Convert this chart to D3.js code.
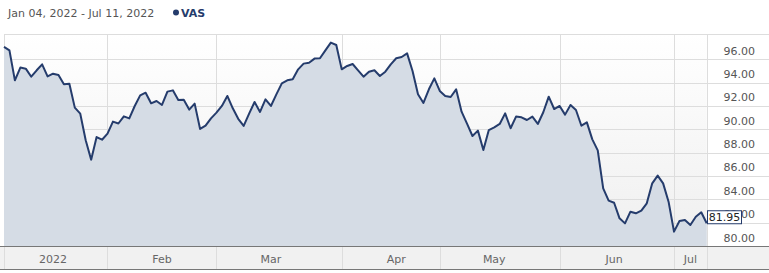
<!DOCTYPE html>
<html>
<head>
<meta charset="utf-8">
<script src="https://cdn.jsdelivr.net/npm/d3@7"></script>
<style>
  html, body { margin: 0; padding: 0; background: #fff; }
  svg { display: block; font-family: "DejaVu Sans", Verdana, sans-serif; }
</style>
</head>
<body>
<svg id="chart" width="769" height="273"></svg>
<script>
// ---- data ----
const seriesName = "VAS";
const rangeLabel = "Jan 04, 2022 - Jul 11, 2022";
const startDate = "2022-01-04";
const endDate = "2022-07-11";
const marketHolidays = ["2022-01-26", "2022-04-15", "2022-04-18", "2022-04-25", "2022-06-13"];
const closes = [
  97.06, 96.77, 94.20, 95.29, 95.20, 94.51, 95.06, 95.57, 94.54, 94.77,
  94.66, 93.86, 93.91, 91.86, 91.34, 89.06, 87.40, 89.34, 89.11, 89.63,
  90.66, 90.50, 91.11, 90.94, 92.00, 92.91, 93.14, 92.23, 92.43, 92.09,
  93.23, 93.34, 92.51, 92.54, 91.69, 92.20, 90.03, 90.31, 90.94, 91.43,
  92.00, 92.86, 91.80, 90.90, 90.29, 91.34, 92.34, 91.49, 92.57, 92.00,
  93.00, 93.94, 94.20, 94.29, 95.14, 95.63, 95.71, 96.06, 96.09, 96.77,
  97.43, 97.23, 95.14, 95.43, 95.60, 95.06, 94.51, 94.94, 95.06, 94.57,
  94.94, 95.57, 96.09, 96.20, 96.51, 95.00, 93.00, 92.26, 93.43, 94.37,
  93.29, 92.86, 92.77, 93.43, 91.51, 90.49, 89.43, 89.89, 88.23, 89.94,
  90.17, 90.46, 91.37, 90.09, 91.09, 91.03, 90.80, 91.09, 90.46, 91.46,
  92.80, 91.74, 92.00, 91.26, 92.09, 91.66, 90.31, 90.60, 89.14, 88.20,
  84.94, 83.89, 83.71, 82.37, 81.94, 82.94, 82.80, 83.03, 83.66, 85.37,
  86.03, 85.37, 83.80, 81.23, 82.14, 82.23, 81.80, 82.51, 82.89, 81.95
];
const yTicks = [80, 82, 84, 86, 88, 90, 92, 94, 96];
const yDomain = [80, 98.17];
const monthLabels = ["2022", "Feb", "Mar", "Apr", "May", "Jun", "Jul"];
const monthLabelDates = ["2022-01-17", "2022-02-15", "2022-03-15", "2022-04-19", "2022-05-16", "2022-06-16", "2022-07-06"];

// ---- trading calendar ----
const fmt = d3.utcFormat("%Y-%m-%d");
const parse = d3.utcParse("%Y-%m-%d");
const dates = d3.utcDay.range(parse(startDate), d3.utcDay.offset(parse(endDate), 1))
  .filter(d => d.getUTCDay() !== 0 && d.getUTCDay() !== 6 && !marketHolidays.includes(fmt(d)));
const dateKeys = dates.map(fmt);
const data = closes.map((v, i) => ({ i, date: dates[i], v }));

// ---- layout ----
const W = 769, H = 273;
const plotL = 4, plotR = 706.7, plotT = 34, plotB = 246, axisB = 269;

const x = d3.scaleLinear().domain([0, data.length - 1]).range([plotL, plotR]);
const y = d3.scaleLinear().domain(yDomain).range([plotB, plotT]);

const svg = d3.select("#chart");
const defs = svg.append("defs");
const grad = defs.append("linearGradient").attr("id", "bg").attr("x1", 0).attr("y1", 0).attr("x2", 0).attr("y2", 1);
grad.append("stop").attr("offset", "0%").attr("stop-color", "#ffffff");
grad.append("stop").attr("offset", "100%").attr("stop-color", "#efefef");

svg.append("rect").attr("x", plotL).attr("y", plotT).attr("width", plotR - plotL).attr("height", plotB - plotT).attr("fill", "url(#bg)");

// month boundaries
const monthStarts = [];
for (let i = 1; i < dates.length; i++) {
  if (dates[i].getUTCMonth() !== dates[i - 1].getUTCMonth()) monthStarts.push(i);
}

// horizontal grid
svg.append("g").selectAll("line").data(yTicks).join("line")
  .attr("x1", plotL).attr("x2", W)
  .attr("y1", d => Math.round(y(d)) + 0.5).attr("y2", d => Math.round(y(d)) + 0.5)
  .attr("stroke", "#dddddd").attr("stroke-width", 1);
svg.append("line").attr("x1", plotL).attr("x2", W).attr("y1", plotT + 0.5).attr("y2", plotT + 0.5)
  .attr("stroke", "#dddddd");

// vertical grid
svg.append("g").selectAll("line").data(monthStarts).join("line")
  .attr("x1", d => Math.round(x(d)) + 0.5).attr("x2", d => Math.round(x(d)) + 0.5)
  .attr("y1", plotT).attr("y2", axisB)
  .attr("stroke", "#dddddd");
[plotL, plotR].forEach(px => {
  svg.append("line").attr("x1", Math.round(px) + 0.5).attr("x2", Math.round(px) + 0.5)
    .attr("y1", plotT).attr("y2", axisB).attr("stroke", "#dddddd");
});

// area + line
const area = d3.area().x(d => x(d.i)).y0(plotB).y1(d => y(d.v));
const line = d3.line().x(d => x(d.i)).y(d => y(d.v));
svg.append("path").datum(data).attr("d", area).attr("fill", "#d5dce5");
svg.append("path").datum(data).attr("d", line).attr("fill", "none")
  .attr("stroke", "#253c6c").attr("stroke-width", 2).attr("stroke-linejoin", "round");

// bottom axis band
svg.append("rect").attr("x", 0).attr("y", plotB).attr("width", W).attr("height", axisB - plotB).attr("fill", "#f1f1f1");
svg.append("g").selectAll("line").data(monthStarts).join("line")
  .attr("x1", d => Math.round(x(d)) + 0.5).attr("x2", d => Math.round(x(d)) + 0.5)
  .attr("y1", plotB).attr("y2", axisB).attr("stroke", "#dddddd");
[plotL, plotR].forEach(px => {
  svg.append("line").attr("x1", Math.round(px) + 0.5).attr("x2", Math.round(px) + 0.5)
    .attr("y1", plotB).attr("y2", axisB).attr("stroke", "#dddddd");
});
svg.append("line").attr("x1", 0).attr("x2", W).attr("y1", plotB + 0.5).attr("y2", plotB + 0.5).attr("stroke", "#777");
svg.append("line").attr("x1", 0).attr("x2", W).attr("y1", axisB + 0.5).attr("y2", axisB + 0.5).attr("stroke", "#777");

// x labels
svg.append("g").selectAll("text").data(monthLabels).join("text")
  .attr("x", (d, k) => x(dateKeys.indexOf(monthLabelDates[k])))
  .attr("y", 263)
  .attr("text-anchor", "middle")
  .attr("font-size", 11).attr("fill", "#666")
  .text(d => d);

// y labels (right)
svg.append("g").selectAll("text").data(yTicks).join("text")
  .attr("x", 755).attr("y", d => y(d) - 4.5)
  .attr("text-anchor", "end")
  .attr("font-size", 11).attr("fill", "#555")
  .text(d => d3.format(".2f")(d));

// last value box
const last = data[data.length - 1];
const lg = svg.append("g");
const ly = y(last.v);
lg.append("rect").attr("x", 707.5).attr("y", ly - 12.5).attr("width", 34).attr("height", 13)
  .attr("fill", "#fff").attr("stroke", "#253c6c").attr("stroke-width", 1);
lg.append("text").attr("x", 724.5).attr("y", ly - 2).attr("text-anchor", "middle")
  .attr("font-size", 11).attr("fill", "#222").text(d3.format(".2f")(last.v));

// header
svg.append("text").attr("x", 8).attr("y", 16.5).attr("font-size", 11).attr("fill", "#555").text(rangeLabel);
svg.append("circle").attr("cx", 176).attr("cy", 12.5).attr("r", 3).attr("fill", "#253c6c");
svg.append("text").attr("x", 181).attr("y", 16.5).attr("font-size", 11).attr("font-weight", "bold")
  .attr("fill", "#253c6c").text(seriesName);
</script>
</body>
</html>
